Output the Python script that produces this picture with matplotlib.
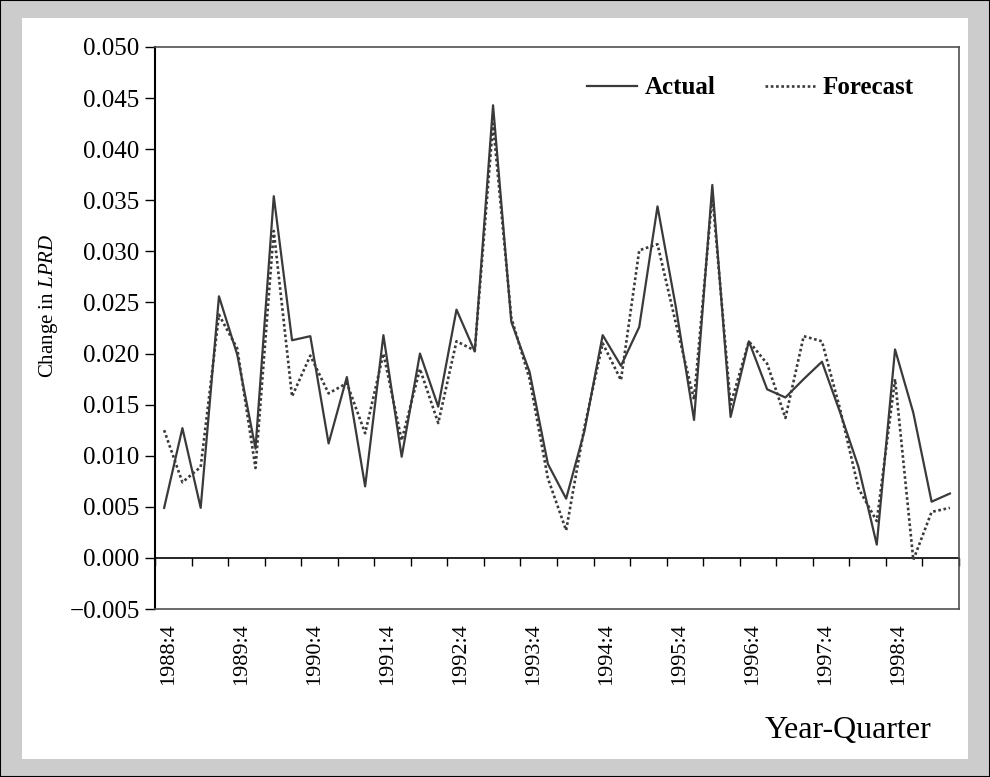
import numpy as np
import matplotlib
matplotlib.use("Agg")
import matplotlib.pyplot as plt
import matplotlib.transforms as mtransforms
from matplotlib.patches import Rectangle
from matplotlib.ticker import FuncFormatter

# Quarterly change in LPRD, actual vs. one-step forecast
quarters = [
    "1988:4",
    "1989:1", "1989:2", "1989:3", "1989:4",
    "1990:1", "1990:2", "1990:3", "1990:4",
    "1991:1", "1991:2", "1991:3", "1991:4",
    "1992:1", "1992:2", "1992:3", "1992:4",
    "1993:1", "1993:2", "1993:3", "1993:4",
    "1994:1", "1994:2", "1994:3", "1994:4",
    "1995:1", "1995:2", "1995:3", "1995:4",
    "1996:1", "1996:2", "1996:3", "1996:4",
    "1997:1", "1997:2", "1997:3", "1997:4",
    "1998:1", "1998:2", "1998:3", "1998:4",
    "1999:1", "1999:2", "1999:3",
]

actual = [
    0.0049, 0.0127, 0.0049, 0.0256, 0.0199, 0.0107, 0.0354, 0.0213, 0.0217,
    0.0112, 0.0177, 0.0070, 0.0218, 0.0099, 0.0200, 0.0148, 0.0243, 0.0202,
    0.0443, 0.0231, 0.0182, 0.0092, 0.0058, 0.0124, 0.0218, 0.0188, 0.0226,
    0.0344, 0.0246, 0.0135, 0.0365, 0.0138, 0.0212, 0.0165, 0.0157, 0.0175,
    0.0192, 0.0142, 0.0089, 0.0013, 0.0204, 0.0142, 0.0055, 0.0063,
]

forecast = [
    0.0125, 0.0074, 0.0089, 0.0238, 0.0205, 0.0088, 0.0320, 0.0158, 0.0198,
    0.0161, 0.0171, 0.0122, 0.0200, 0.0115, 0.0185, 0.0132, 0.0212, 0.0203,
    0.0425, 0.0235, 0.0175, 0.0078, 0.0027, 0.0128, 0.0210, 0.0174, 0.0301,
    0.0307, 0.0230, 0.0155, 0.0355, 0.0150, 0.0212, 0.0190, 0.0137, 0.0217,
    0.0212, 0.0145, 0.0068, 0.0036, 0.0175, -0.0002, 0.0045, 0.0049,
]

plt.rcParams["font.family"] = "Liberation Serif"
plt.rcParams["mathtext.fontset"] = "custom"
plt.rcParams["mathtext.rm"] = "Liberation Serif"
plt.rcParams["mathtext.it"] = "Liberation Serif:italic"

W, H = 990, 777
line_color = "#3a3a3a"

fig = plt.figure(figsize=(W / 100, H / 100), dpi=100, facecolor="#cccccc")
# white chart area inside the grey frame
fig.add_artist(Rectangle((22 / W, 1 - 759 / H), (968 - 22) / W, (759 - 18) / H,
                         transform=fig.transFigure, facecolor="white",
                         edgecolor="none", zorder=-2))
fig.add_artist(Rectangle((0, 0), 1, 1, transform=fig.transFigure, fill=False,
                         edgecolor="black", lw=1.5, zorder=-1))

ax = fig.add_axes([155 / W, 1 - 609 / H, 804 / W, 562 / H])
ax.set_facecolor("white")

x = np.arange(len(quarters))
ax.plot(x, actual, color=line_color, lw=1.6, label="Actual")
ax.plot(x, forecast, color=line_color, lw=1.9, linestyle=(0, (1, 1)),
        dash_capstyle="butt", label="Forecast")

ax.set_xlim(-0.5, len(quarters) - 0.5)
ax.set_ylim(-0.005, 0.050)

# y axis
ax.set_yticks(np.round(np.arange(-0.005, 0.0501, 0.005), 3))
ax.yaxis.set_major_formatter(
    FuncFormatter(lambda v, _: f"{v:.3f}".replace("-", "\u2212")))
ax.tick_params(axis="y", direction="out", length=7, width=1, pad=4,
               labelsize=18)

# labels every fourth quarter, centred under the points
label_pos = [i for i, q in enumerate(quarters) if q.endswith(":4")]
ax.set_xticks(label_pos)
ax.set_xticklabels([quarters[i] for i in label_pos], rotation=90)
ax.tick_params(axis="x", length=0, pad=10, labelsize=16)
nudge = mtransforms.ScaledTranslation(4 / 100, 0, fig.dpi_scale_trans)
for lbl in ax.get_xticklabels():
    lbl.set_transform(lbl.get_transform() + nudge)

for side in ["top", "right", "bottom"]:
    ax.spines[side].set_color("#505050")
    ax.spines[side].set_linewidth(1.2)
ax.spines["left"].set_color("black")
ax.spines["left"].set_linewidth(1.5)

# category axis crossing at zero, with marks between every two quarters
zero_axis = ax.secondary_xaxis(0, transform=ax.transData)
zero_axis.set_xticks(np.arange(-0.5, len(quarters), 2))
zero_axis.tick_params(axis="x", direction="out", length=6, width=1,
                      labelbottom=False)
zero_axis.spines["bottom"].set_color("black")
zero_axis.spines["bottom"].set_linewidth(1.2)

ax.set_ylabel("Change in $\\mathit{LPRD}$", fontsize=15)
ax.yaxis.set_label_coords(-0.118, 0.54)

ax.set_xlabel("Year-Quarter", fontsize=23, loc="right")
ax.xaxis.set_label_coords(0.966, -0.19)
ax.xaxis.label.set_va("top")

ax.legend(loc="center right", bbox_to_anchor=(914 / W, 1 - 88 / H),
          bbox_transform=fig.transFigure, ncol=2, frameon=False,
          prop={"weight": "bold", "size": 18}, handlelength=2.0,
          handletextpad=0.3, columnspacing=2.0, borderpad=0,
          borderaxespad=0)

fig.savefig("out.png", dpi=100, facecolor=fig.get_facecolor())
